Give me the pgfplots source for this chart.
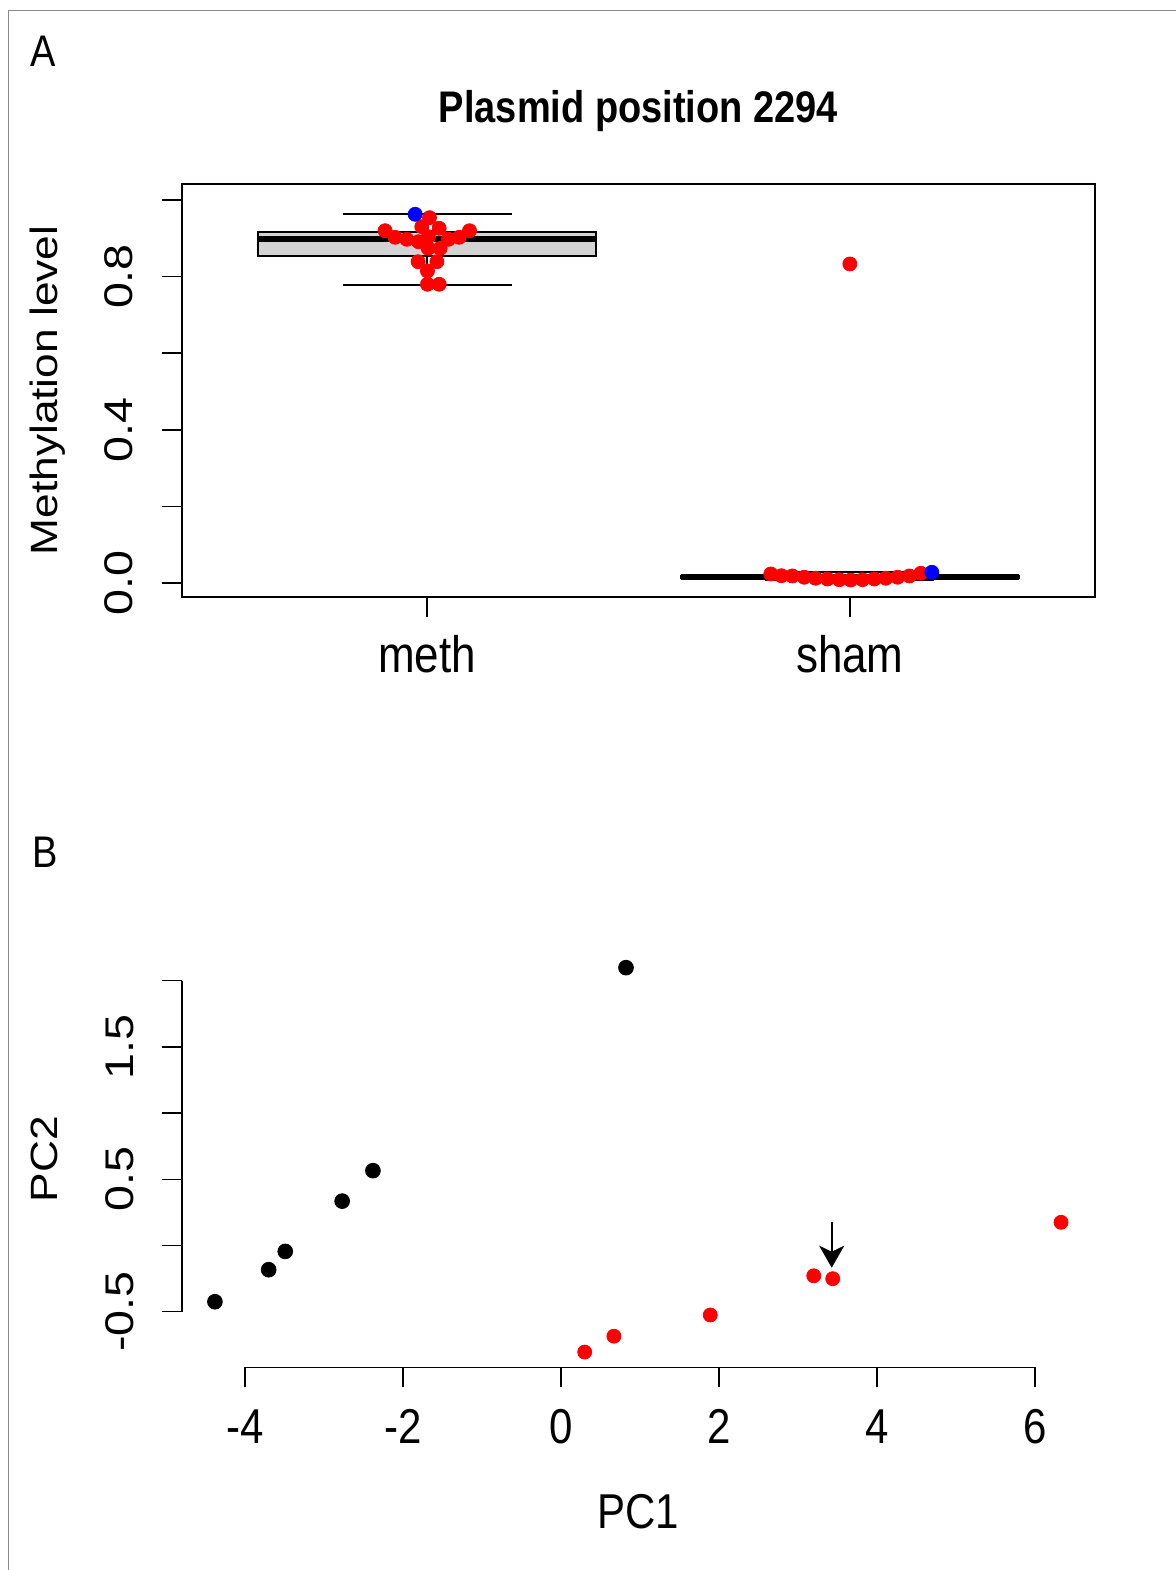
\documentclass[border=0pt]{standalone}
\usepackage{fontspec}
\setmainfont{Liberation Sans}
\usepackage{pgfplots}
\pgfplotsset{compat=1.18}
\usepgfplotslibrary{statistics}
\usetikzlibrary{arrows.meta}
\definecolor{rlightgray}{HTML}{D3D3D3}
\definecolor{framegray}{HTML}{8A8A8A}
\newcommand{\tfont}{\fontsize{20bp}{24bp}\selectfont}
\newcommand{\afont}{\fontsize{22bp}{26bp}\selectfont}
\newcommand{\bfont}{\fontsize{21bp}{25bp}\selectfont}
\newcommand{\lfont}{\fontsize{19bp}{23bp}\selectfont}
\begin{document}
\begin{tikzpicture}
\useasboundingbox (0,0) rectangle (588bp,785bp);
% outer frame (top and left edges visible)
\draw[framegray, line width=0.75bp] (4.15bp,-1bp) -- (4.15bp,779.65bp) -- (589bp,779.65bp);
\node[anchor=base west, inner sep=0pt, yscale=1.165, font=\lfont] at (15bp,751.5bp) {A};
\node[anchor=base west, inner sep=0pt, yscale=1.165, font=\lfont] at (16bp,351bp) {B};

% ---------------- Panel A ----------------
\begin{axis}[
  at={(91bp,486.5bp)}, anchor=south west, scale only axis,
  width=456.5bp, height=206.5bp,
  xmin=0.42, xmax=2.58, ymin=-0.0366, ymax=1.0418,
  clip=false,
  axis line style={line width=0.75bp, black},
  tick style={line width=0.75bp, black}, tick align=outside, major tick length=10bp,
  xtick={1,2}, xticklabels={meth,sham},
  ytick={0,0.2,0.4,0.6,0.8,1.0}, yticklabels={0.0,,0.4,,0.8,},
  xtick pos=bottom, ytick pos=left,
  xticklabel style={anchor=base, inner sep=0pt, yshift=-28bp, yscale=1.165, font=\afont},
  yticklabel style={anchor=base, inner sep=0pt, xshift=-14.5bp, rotate=90, xscale=1.165, font=\tfont},
  ylabel={Methylation level},
  every axis y label/.style={at={(axis description cs:-0.1369,0.5)}, rotate=90, anchor=base, inner sep=0pt, xscale=1.165, font=\lfont},
  title={\bfseries Plasmid position 2294},
  every axis title/.style={at={(axis description cs:0.5,1.1477)}, anchor=base, inner sep=0pt, yscale=1.165, font=\lfont},
  boxplot/draw direction=y,
  boxplot/every median/.style={line width=3bp},
]
\addplot[boxplot prepared={draw position=1, median=0.898, upper quartile=0.9165, lower quartile=0.854, upper whisker=0.963, lower whisker=0.778, box extend=0.8, whisker extend=0.4}, draw=black, fill=rlightgray, line width=0.75bp, mark=none] coordinates {};
\addplot[boxplot prepared={draw position=2, median=0.016, upper quartile=0.019, lower quartile=0.013, upper whisker=0.028, lower whisker=0.008, box extend=0.8, whisker extend=0.4}, draw=black, fill=rlightgray, line width=0.75bp, mark=none] coordinates {};
% meth samples (red)
\addplot[only marks, mark=*, mark size=3.5bp, color=red, mark options={draw=red, fill=red}] coordinates {
(1.0055,0.9538) (0.9005,0.9198) (1.1002,0.9198) (0.9874,0.9303) (1.0284,0.9261)
(0.9242,0.9026) (0.9519,0.8974) (0.9794,0.8911) (1.0031,0.9042) (1.0505,0.8974)
(1.0758,0.9026) (1.0024,0.8739) (1.0308,0.8739) (0.9787,0.8389) (1.0230,0.8389)
(1.0007,0.8146) (1.0007,0.7799) (1.0284,0.7799)
};
% sham samples (red)
\addplot[only marks, mark=*, mark size=3.5bp, color=red, mark options={draw=red, fill=red}] coordinates {
(1.813,0.0235) (1.838,0.0190) (1.864,0.0183) (1.892,0.0149) (1.919,0.0123)
(1.947,0.0104) (1.975,0.0086) (2.002,0.0078) (2.030,0.0086) (2.058,0.0104)
(2.085,0.0123) (2.113,0.0149) (2.141,0.0183) (2.168,0.0253) (2.000,0.833)
};
% highlighted samples (blue)
\addplot[only marks, mark=*, mark size=3.5bp, color=blue, mark options={draw=blue, fill=blue}] coordinates {
(0.9716,0.9627) (2.194,0.0279)
};
\end{axis}

% ---------------- Panel B ----------------
\begin{axis}[
  at={(91bp,101.35bp)}, anchor=south west, scale only axis,
  width=456.5bp, height=208.35bp,
  xmin=-4.797, xmax=6.76, ymin=-0.92, ymax=2.227,
  clip=false,
  axis x line*=bottom, axis y line*=left,
  axis line style={draw=none},
  tick style={line width=0.75bp, black}, tick align=outside, major tick length=10bp,
  xtick={-4,-2,0,2,4,6}, xticklabels={-4,-2,0,2,4,6},
  ytick={-0.5,0,0.5,1.0,1.5,2.0}, yticklabels={-0.5,,0.5,,1.5,},
  xticklabel style={anchor=base, inner sep=0pt, yshift=-28.3bp, yscale=1.165, font=\bfont},
  yticklabel style={anchor=base, inner sep=0pt, xshift=-14.5bp, rotate=90, xscale=1.165, font=\tfont},
  xlabel={PC1}, ylabel={PC2},
  every axis x label/.style={at={(axis description cs:0.5,-0.387)}, anchor=base, inner sep=0pt, yscale=1.165, font=\bfont},
  every axis y label/.style={at={(axis description cs:-0.1369,0.5)}, rotate=90, anchor=base, inner sep=0pt, xscale=1.165, font=\lfont},
]
\draw[line width=0.75bp, black] (axis cs:-4,-0.92) -- (axis cs:6,-0.92);
\draw[line width=0.75bp, black] (axis cs:-4.797,-0.5) -- (axis cs:-4.797,2.0);
\addplot[only marks, mark=*, mark size=3.7bp, color=black, mark options={draw=black, fill=black}] coordinates {
(-4.38,-0.425) (-3.70,-0.183) (-3.49,-0.045) (-2.77,0.335) (-2.38,0.565) (0.823,2.098)
};
\addplot[only marks, mark=*, mark size=3.5bp, color=red, mark options={draw=red, fill=red}] coordinates {
(0.30,-0.805) (0.67,-0.685) (1.89,-0.525) (3.20,-0.229) (3.44,-0.251) (6.33,0.175)
};
\draw[line width=1bp, -{Stealth[length=11bp, width=12.5bp, inset=3bp]}] (axis cs:3.427,0.18) -- (axis cs:3.427,-0.168);
\end{axis}
\end{tikzpicture}
\end{document}
